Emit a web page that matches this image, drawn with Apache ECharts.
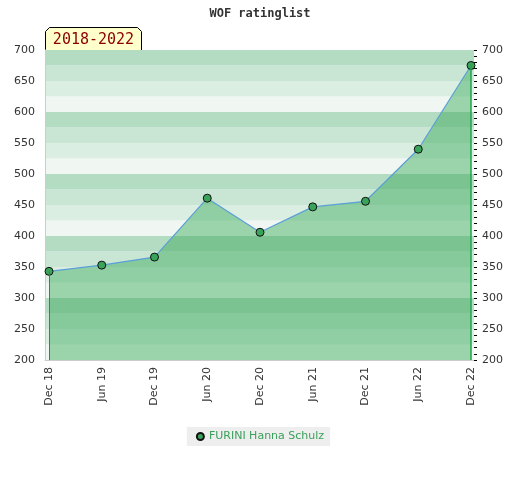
<!DOCTYPE html>
<html><head><meta charset="utf-8">
<script src="https://cdn.jsdelivr.net/npm/echarts@6/dist/echarts.min.js"></script>
<style>html,body{margin:0;padding:0;background:#fff}#c{width:520px;height:480px}</style>
</head><body><div id="c"></div>
<script>
var categories = ['Dec 18','Jun 19','Dec 19','Jun 20','Dec 20','Jun 21','Dec 21','Jun 22','Dec 22'];
var ratings = [343, 353, 366, 461, 406, 447, 456, 540, 675];
var playerName = 'FURINI Hanna Schulz';
var chartTitle = 'WOF ratinglist';
var periodLabel = '2018-2022';
var yMin = 200, yMax = 700;

var chart = echarts.init(document.getElementById('c'));
var pts = ratings.map(function(v,i){return [i,v];});
var last = ratings.length - 1;
var gl = 45, gr = 474, gt = 50, gb = 360;
var unit = (471 - 49) / last;
var xMin = -(49 - gl) / unit, xMax = last + (gr - 471) / unit;

chart.setOption({
  animation:false,
  title:{text:chartTitle,left:'center',top:3,textStyle:{fontFamily:'DejaVu Sans Mono',fontSize:12,fontWeight:'bold',color:'#333'}},
  grid:{left:gl,right:520-gr,top:gt,bottom:480-gb},
  legend:{bottom:34,left:'center',backgroundColor:'#eeeeee',padding:[4,6,4,9],itemWidth:7,itemHeight:7,itemGap:9,
    textStyle:{fontFamily:'DejaVu Sans',fontSize:11,color:'#3aa05a'},data:[{name:playerName,icon:'circle'}]},
  xAxis:{type:'value',min:xMin,max:xMax,
    axisLine:{show:true,onZero:false,lineStyle:{color:'#cccccc'}},axisTick:{show:false},splitLine:{show:false},
    axisLabel:{customValues:categories.map(function(c,i){return i;}),rotate:90,margin:7,
      fontFamily:'DejaVu Sans',fontSize:11,color:'#333',
      formatter:function(v){return categories[Math.round(v)]||'';}}},
  yAxis:[
    {type:'value',min:yMin,max:yMax,interval:25,position:'left',
     axisLine:{show:true,onZero:false,lineStyle:{color:'#cccccc'}},axisTick:{show:false},splitLine:{show:false},
     splitArea:{show:true,areaStyle:{color:['#f0f7f2','#dbeee2','#c8e6d3','#b3dcc3']}},
     axisLabel:{fontFamily:'DejaVu Sans',fontSize:11,color:'#333',margin:10,formatter:function(v){return v%50===0?v:'';}}},
    {type:'value',min:yMin,max:yMax,interval:50,position:'right',
     axisLine:{show:false,onZero:false},splitLine:{show:false},
     axisTick:{show:true,length:3,lineStyle:{color:'#000'}},
     minorTick:{show:true,splitNumber:5,length:3,lineStyle:{color:'#000'}},
     axisLabel:{fontFamily:'DejaVu Sans',fontSize:11,color:'#333',margin:8}}
  ],
  graphic:[{type:'group',left:gl,top:27,children:[
    {type:'polygon',shape:{points:[[0,24],[0,4],[4,0],[92,0],[96,4],[96,24]]},style:{fill:'#ffffcc',stroke:'#000',lineWidth:1}},
    {type:'text',x:48,y:13,style:{text:periodLabel,fill:'#8b0000',font:'15px "DejaVu Sans Mono"',align:'center',verticalAlign:'middle'}}
  ]}],
  series:[{
    name:playerName,type:'line',data:pts,symbol:'circle',symbolSize:8,
    itemStyle:{color:'#3aa35a',borderColor:'#111',borderWidth:1},
    lineStyle:{color:'#5b9fd8',width:1.2},
    areaStyle:{color:'rgb(59,169,92)',opacity:0.47},
    markLine:{silent:true,symbol:'none',label:{show:false},
      data:[
        [{coord:[0,yMin],lineStyle:{color:'#2e8b4f',width:1,type:'solid'}},{coord:[0,ratings[0]]}],
        [{coord:[last,yMin],lineStyle:{color:'#1fa64a',width:1.5,type:'solid'}},{coord:[last,ratings[last]]}]
      ]}
  }]
});
</script></body></html>
